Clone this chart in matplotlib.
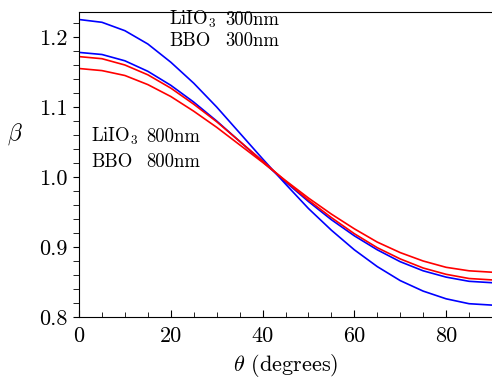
import matplotlib
matplotlib.use("Agg")
import matplotlib.pyplot as plt
from matplotlib.ticker import MultipleLocator

plt.rcParams["font.family"] = "cmr10"
plt.rcParams["mathtext.fontset"] = "cm"
plt.rcParams["axes.formatter.use_mathtext"] = True

# angle in degrees, read every 5 degrees
theta = [0, 5, 10, 15, 20, 25, 30, 35, 40, 45, 50, 55, 60, 65, 70, 75, 80, 85, 90]

# 300nm curves (blue)
liio3_300 = [1.225, 1.221, 1.209, 1.190, 1.164, 1.134, 1.100, 1.063, 1.026, 0.990,
             0.955, 0.924, 0.896, 0.872, 0.852, 0.837, 0.826, 0.819, 0.817]
bbo_300 = [1.178, 1.175, 1.166, 1.151, 1.131, 1.107, 1.080, 1.051, 1.022, 0.993,
           0.965, 0.939, 0.916, 0.896, 0.879, 0.866, 0.857, 0.851, 0.849]

# 800nm curves (red)
liio3_800 = [1.172, 1.169, 1.160, 1.146, 1.127, 1.104, 1.079, 1.051, 1.023, 0.994,
             0.967, 0.942, 0.919, 0.899, 0.883, 0.870, 0.861, 0.855, 0.853]
bbo_800 = [1.155, 1.152, 1.145, 1.132, 1.115, 1.094, 1.071, 1.046, 1.021, 0.995,
           0.970, 0.947, 0.926, 0.907, 0.892, 0.880, 0.871, 0.866, 0.864]

fig = plt.figure(figsize=(4.92, 3.85), dpi=100)
ax = fig.add_axes([0.1606, 0.1766, 0.8394, 0.7922])

for ys, c in [(liio3_300, "blue"), (bbo_300, "blue"), (liio3_800, "red"), (bbo_800, "red")]:
    ax.plot(theta, ys, color=c, lw=1.2, solid_joinstyle="round")

ax.set_xlim(0, 90)
ax.set_ylim(0.8, 1.2357)
ax.xaxis.set_major_locator(MultipleLocator(20))
ax.xaxis.set_minor_locator(MultipleLocator(5))
ax.yaxis.set_major_locator(MultipleLocator(0.1))
ax.yaxis.set_minor_locator(MultipleLocator(0.02))
ax.yaxis.set_major_formatter(plt.FormatStrFormatter("%.1f"))
ax.xaxis.set_major_formatter(plt.FormatStrFormatter("%d"))

ax.spines["right"].set_visible(False)
ax.tick_params(axis="x", which="both", direction="in", top=False, labelsize=16, pad=7)
ax.tick_params(axis="x", which="major", length=5)
ax.tick_params(axis="x", which="minor", length=3.5)
ax.tick_params(axis="y", which="both", direction="out", right=False, labelsize=16, pad=4, length=4.5)

ax.set_xlabel(r"$\theta$ (degrees)", fontsize=16)
ax.set_ylabel(r"$\beta$", fontsize=17, rotation=0)
ax.yaxis.set_label_coords(-0.155, 0.557)

fs = 13.5
ax.text(19.6, 1.217, r"LiIO$_3$", fontsize=fs, va="baseline")
ax.text(31.8, 1.217, "300nm", fontsize=fs, va="baseline")
ax.text(19.6, 1.187, "BBO", fontsize=fs, va="baseline")
ax.text(31.8, 1.187, "300nm", fontsize=fs, va="baseline")
ax.text(2.6, 1.050, r"LiIO$_3$", fontsize=fs, va="baseline")
ax.text(14.7, 1.050, "800nm", fontsize=fs, va="baseline")
ax.text(2.6, 1.0147, "BBO", fontsize=fs, va="baseline")
ax.text(14.7, 1.0147, "800nm", fontsize=fs, va="baseline")

fig.savefig("out.png", dpi=100)
